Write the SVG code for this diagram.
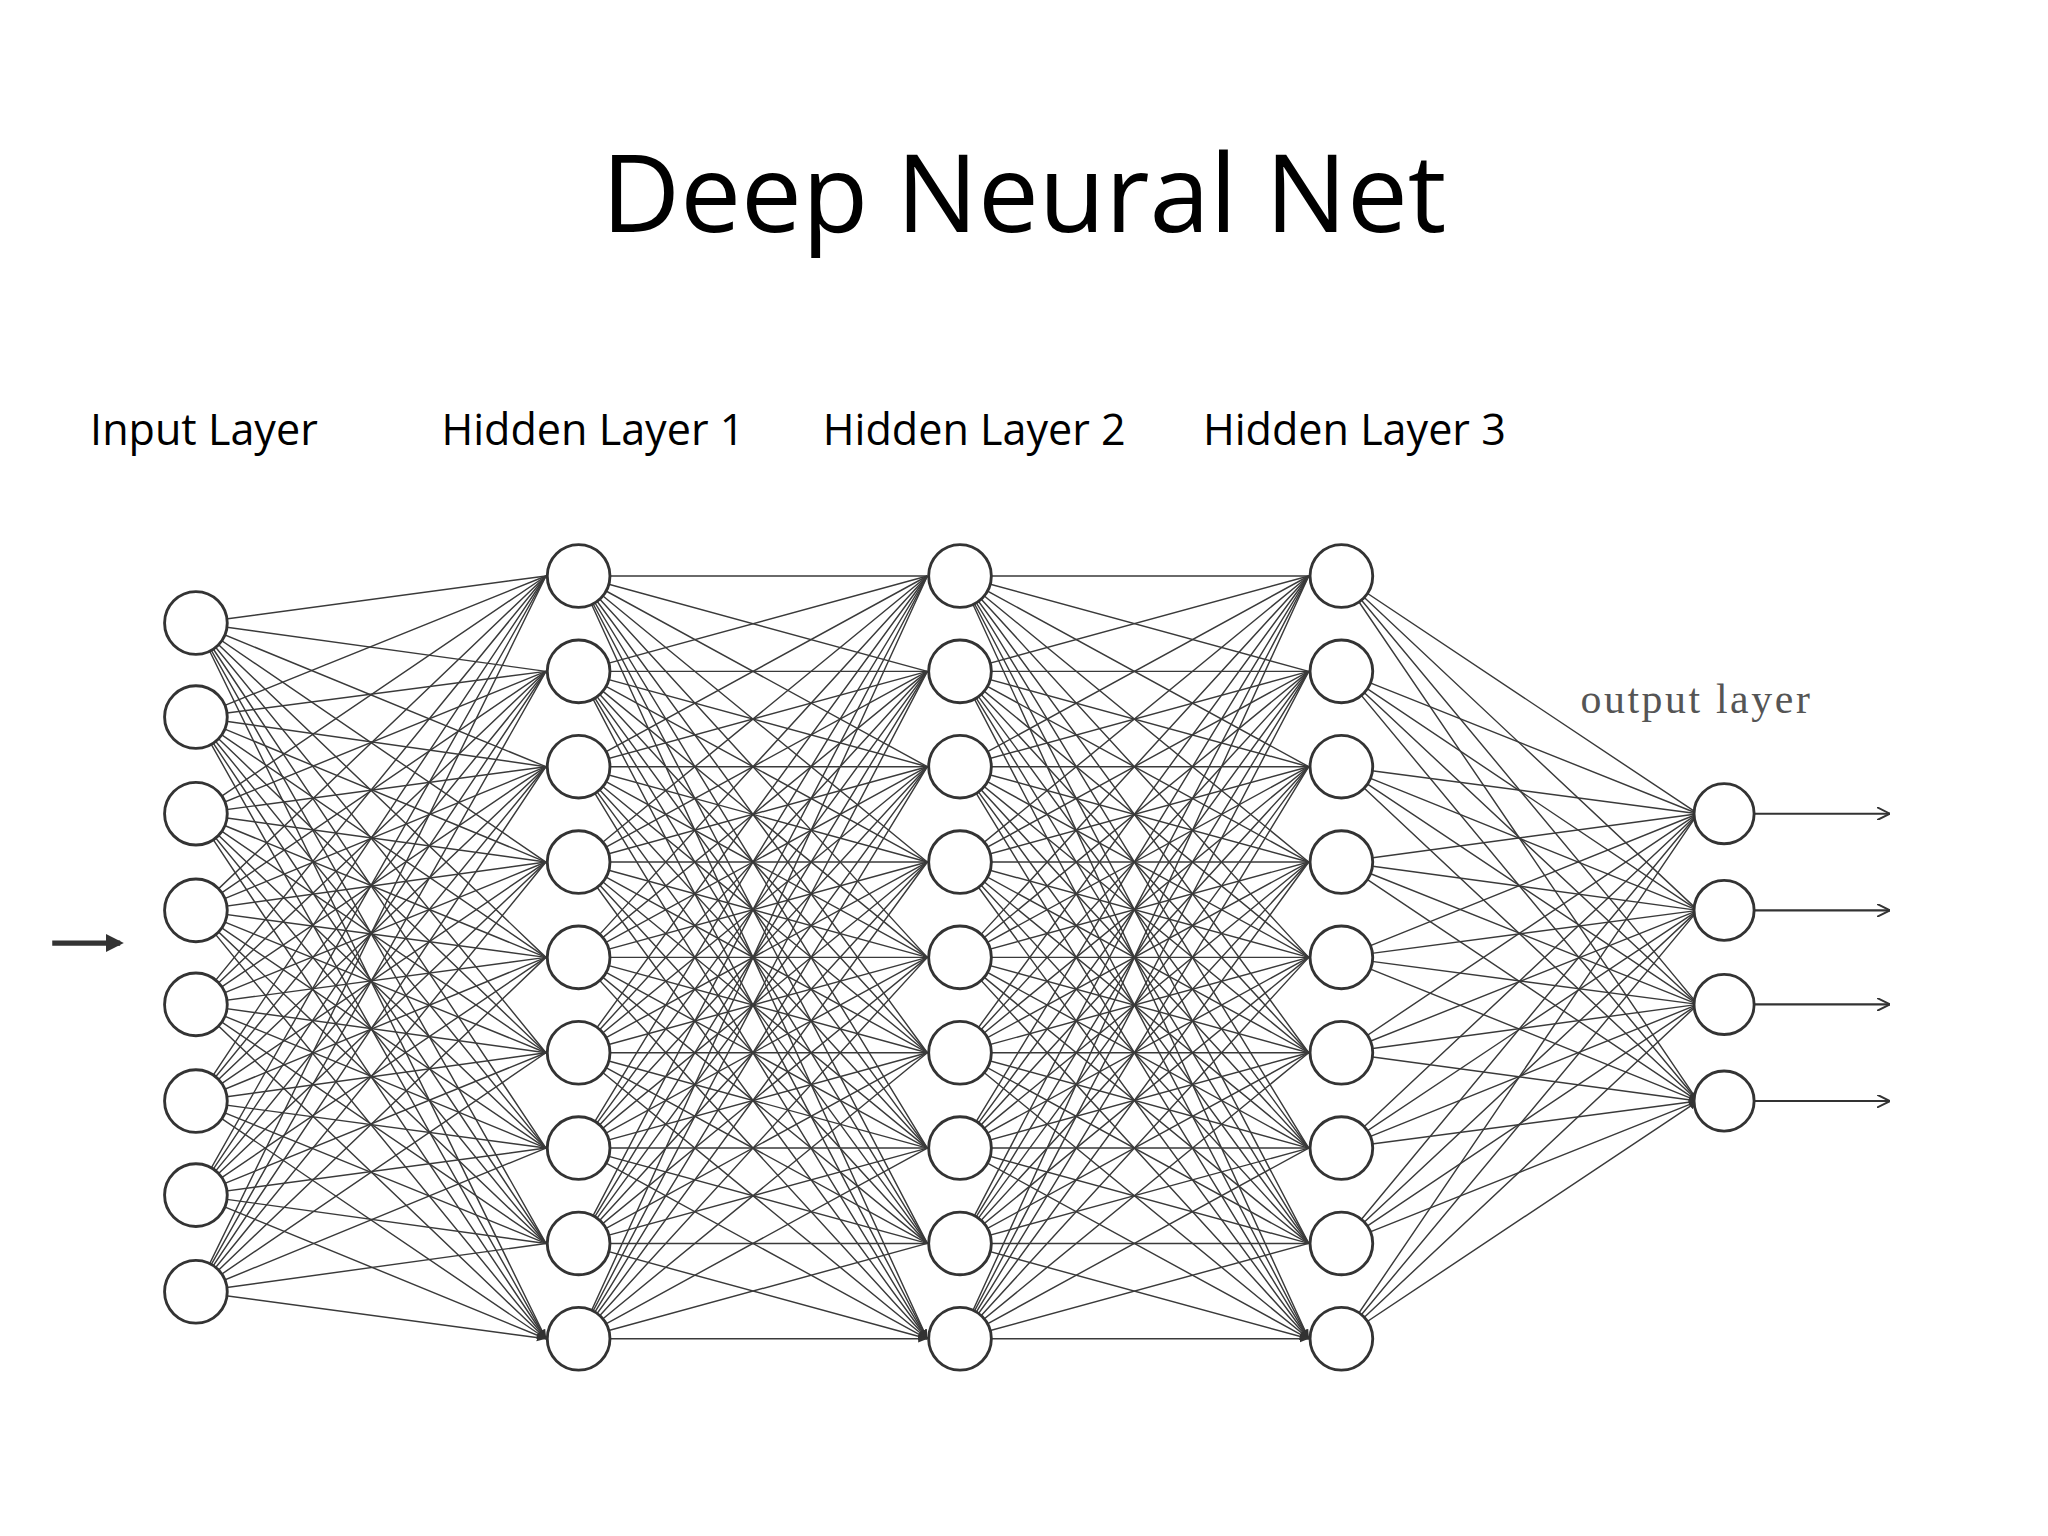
<svg xmlns="http://www.w3.org/2000/svg" width="2048" height="1536" viewBox="0 0 2048 1536">
<style>
.t{font-family:"Open Sans","Noto Sans",sans-serif;fill:#000}
.c path{stroke:#3a3a3a;stroke-width:1.1;fill:none;marker-end:url(#a)}
.n circle{fill:#fff;stroke:#333;stroke-width:2.2}
.arr path{stroke:#333;stroke-width:1.6;fill:none;marker-end:url(#b)}
</style>
<defs>
<marker id="a" viewBox="0 0 10 10" refX="10" refY="5" markerWidth="7" markerHeight="7" orient="auto" markerUnits="userSpaceOnUse"><path d="M0 1L10 5L0 9z" fill="#333"/></marker>
<marker id="b" viewBox="0 0 10 10" refX="10" refY="5" markerWidth="10" markerHeight="10" orient="auto" markerUnits="userSpaceOnUse"><path d="M0 0L10 5L0 10" fill="none" stroke="#333" stroke-width="1.5"/></marker>
<marker id="c" viewBox="0 0 10 10" refX="8" refY="5" markerWidth="14" markerHeight="14" orient="auto" markerUnits="userSpaceOnUse"><path d="M0 0L10 5L0 10z" fill="#333"/></marker>
</defs>
<rect width="2048" height="1536" fill="#fff"/>
<g transform="scale(1.30612)">
<text class="t" x="784" y="178" font-size="83" text-anchor="middle">Deep Neural Net</text>
<g class="t" font-size="33"><text x="69" y="341">Input Layer</text><text x="338" y="341">Hidden Layer 1</text><text x="630" y="341">Hidden Layer 2</text><text x="921" y="341">Hidden Layer 3</text></g>
<text x="1210" y="546" font-size="32" letter-spacing="2" fill="#555" font-family="Liberation Serif,serif">output layer</text>
<g id="connectors">
<g class="c">
<path d="M150 477L418 441M150 477L418 514M150 477L418 587M150 477L418 660M150 477L418 733M150 477L418 806M150 477L418 879M150 477L418 952M150 477L418 1025"/>
<path d="M150 549L418 441M150 549L418 514M150 549L418 587M150 549L418 660M150 549L418 733M150 549L418 806M150 549L418 879M150 549L418 952M150 549L418 1025"/>
<path d="M150 623L418 441M150 623L418 514M150 623L418 587M150 623L418 660M150 623L418 733M150 623L418 806M150 623L418 879M150 623L418 952M150 623L418 1025"/>
<path d="M150 697L418 441M150 697L418 514M150 697L418 587M150 697L418 660M150 697L418 733M150 697L418 806M150 697L418 879M150 697L418 952M150 697L418 1025"/>
<path d="M150 769L418 441M150 769L418 514M150 769L418 587M150 769L418 660M150 769L418 733M150 769L418 806M150 769L418 879M150 769L418 952M150 769L418 1025"/>
<path d="M150 843L418 441M150 843L418 514M150 843L418 587M150 843L418 660M150 843L418 733M150 843L418 806M150 843L418 879M150 843L418 952M150 843L418 1025"/>
<path d="M150 915L418 441M150 915L418 514M150 915L418 587M150 915L418 660M150 915L418 733M150 915L418 806M150 915L418 879M150 915L418 952M150 915L418 1025"/>
<path d="M150 989L418 441M150 989L418 514M150 989L418 587M150 989L418 660M150 989L418 733M150 989L418 806M150 989L418 879M150 989L418 952M150 989L418 1025"/>
<path d="M443 441L710 441M443 441L710 514M443 441L710 587M443 441L710 660M443 441L710 733M443 441L710 806M443 441L710 879M443 441L710 952M443 441L710 1025"/>
<path d="M443 514L710 441M443 514L710 514M443 514L710 587M443 514L710 660M443 514L710 733M443 514L710 806M443 514L710 879M443 514L710 952M443 514L710 1025"/>
<path d="M443 587L710 441M443 587L710 514M443 587L710 587M443 587L710 660M443 587L710 733M443 587L710 806M443 587L710 879M443 587L710 952M443 587L710 1025"/>
<path d="M443 660L710 441M443 660L710 514M443 660L710 587M443 660L710 660M443 660L710 733M443 660L710 806M443 660L710 879M443 660L710 952M443 660L710 1025"/>
<path d="M443 733L710 441M443 733L710 514M443 733L710 587M443 733L710 660M443 733L710 733M443 733L710 806M443 733L710 879M443 733L710 952M443 733L710 1025"/>
<path d="M443 806L710 441M443 806L710 514M443 806L710 587M443 806L710 660M443 806L710 733M443 806L710 806M443 806L710 879M443 806L710 952M443 806L710 1025"/>
<path d="M443 879L710 441M443 879L710 514M443 879L710 587M443 879L710 660M443 879L710 733M443 879L710 806M443 879L710 879M443 879L710 952M443 879L710 1025"/>
<path d="M443 952L710 441M443 952L710 514M443 952L710 587M443 952L710 660M443 952L710 733M443 952L710 806M443 952L710 879M443 952L710 952M443 952L710 1025"/>
<path d="M443 1025L710 441M443 1025L710 514M443 1025L710 587M443 1025L710 660M443 1025L710 733M443 1025L710 806M443 1025L710 879M443 1025L710 952M443 1025L710 1025"/>
<path d="M735 441L1002 441M735 441L1002 514M735 441L1002 587M735 441L1002 660M735 441L1002 733M735 441L1002 806M735 441L1002 879M735 441L1002 952M735 441L1002 1025"/>
<path d="M735 514L1002 441M735 514L1002 514M735 514L1002 587M735 514L1002 660M735 514L1002 733M735 514L1002 806M735 514L1002 879M735 514L1002 952M735 514L1002 1025"/>
<path d="M735 587L1002 441M735 587L1002 514M735 587L1002 587M735 587L1002 660M735 587L1002 733M735 587L1002 806M735 587L1002 879M735 587L1002 952M735 587L1002 1025"/>
<path d="M735 660L1002 441M735 660L1002 514M735 660L1002 587M735 660L1002 660M735 660L1002 733M735 660L1002 806M735 660L1002 879M735 660L1002 952M735 660L1002 1025"/>
<path d="M735 733L1002 441M735 733L1002 514M735 733L1002 587M735 733L1002 660M735 733L1002 733M735 733L1002 806M735 733L1002 879M735 733L1002 952M735 733L1002 1025"/>
<path d="M735 806L1002 441M735 806L1002 514M735 806L1002 587M735 806L1002 660M735 806L1002 733M735 806L1002 806M735 806L1002 879M735 806L1002 952M735 806L1002 1025"/>
<path d="M735 879L1002 441M735 879L1002 514M735 879L1002 587M735 879L1002 660M735 879L1002 733M735 879L1002 806M735 879L1002 879M735 879L1002 952M735 879L1002 1025"/>
<path d="M735 952L1002 441M735 952L1002 514M735 952L1002 587M735 952L1002 660M735 952L1002 733M735 952L1002 806M735 952L1002 879M735 952L1002 952M735 952L1002 1025"/>
<path d="M735 1025L1002 441M735 1025L1002 514M735 1025L1002 587M735 1025L1002 660M735 1025L1002 733M735 1025L1002 806M735 1025L1002 879M735 1025L1002 952M735 1025L1002 1025"/>
<path d="M1027 441L1300 623M1027 441L1300 697M1027 441L1300 769M1027 441L1300 843"/>
<path d="M1027 514L1300 623M1027 514L1300 697M1027 514L1300 769M1027 514L1300 843"/>
<path d="M1027 587L1300 623M1027 587L1300 697M1027 587L1300 769M1027 587L1300 843"/>
<path d="M1027 660L1300 623M1027 660L1300 697M1027 660L1300 769M1027 660L1300 843"/>
<path d="M1027 733L1300 623M1027 733L1300 697M1027 733L1300 769M1027 733L1300 843"/>
<path d="M1027 806L1300 623M1027 806L1300 697M1027 806L1300 769M1027 806L1300 843"/>
<path d="M1027 879L1300 623M1027 879L1300 697M1027 879L1300 769M1027 879L1300 843"/>
<path d="M1027 952L1300 623M1027 952L1300 697M1027 952L1300 769M1027 952L1300 843"/>
<path d="M1027 1025L1300 623M1027 1025L1300 697M1027 1025L1300 769M1027 1025L1300 843"/>
</g>
<g class="arr"><path d="M1343 623H1447"/><path d="M1343 697H1447"/><path d="M1343 769H1447"/><path d="M1343 843H1447"/></g>
<path d="M40 722H92" stroke="#333" stroke-width="4" fill="none" marker-end="url(#c)"/>
</g>
<g id="input" class="n"><circle cx="150" cy="477" r="24"/><circle cx="150" cy="549" r="24"/><circle cx="150" cy="623" r="24"/><circle cx="150" cy="697" r="24"/><circle cx="150" cy="769" r="24"/><circle cx="150" cy="843" r="24"/><circle cx="150" cy="915" r="24"/><circle cx="150" cy="989" r="24"/></g>
<g id="hidden1" class="n"><circle cx="443" cy="441" r="24"/><circle cx="443" cy="514" r="24"/><circle cx="443" cy="587" r="24"/><circle cx="443" cy="660" r="24"/><circle cx="443" cy="733" r="24"/><circle cx="443" cy="806" r="24"/><circle cx="443" cy="879" r="24"/><circle cx="443" cy="952" r="24"/><circle cx="443" cy="1025" r="24"/></g>
<g id="hidden2" class="n"><circle cx="735" cy="441" r="24"/><circle cx="735" cy="514" r="24"/><circle cx="735" cy="587" r="24"/><circle cx="735" cy="660" r="24"/><circle cx="735" cy="733" r="24"/><circle cx="735" cy="806" r="24"/><circle cx="735" cy="879" r="24"/><circle cx="735" cy="952" r="24"/><circle cx="735" cy="1025" r="24"/></g>
<g id="hidden3" class="n"><circle cx="1027" cy="441" r="24"/><circle cx="1027" cy="514" r="24"/><circle cx="1027" cy="587" r="24"/><circle cx="1027" cy="660" r="24"/><circle cx="1027" cy="733" r="24"/><circle cx="1027" cy="806" r="24"/><circle cx="1027" cy="879" r="24"/><circle cx="1027" cy="952" r="24"/><circle cx="1027" cy="1025" r="24"/></g>
<g id="output" class="n"><circle cx="1320" cy="623" r="23"/><circle cx="1320" cy="697" r="23"/><circle cx="1320" cy="769" r="23"/><circle cx="1320" cy="843" r="23"/></g>
</g>
</svg>
